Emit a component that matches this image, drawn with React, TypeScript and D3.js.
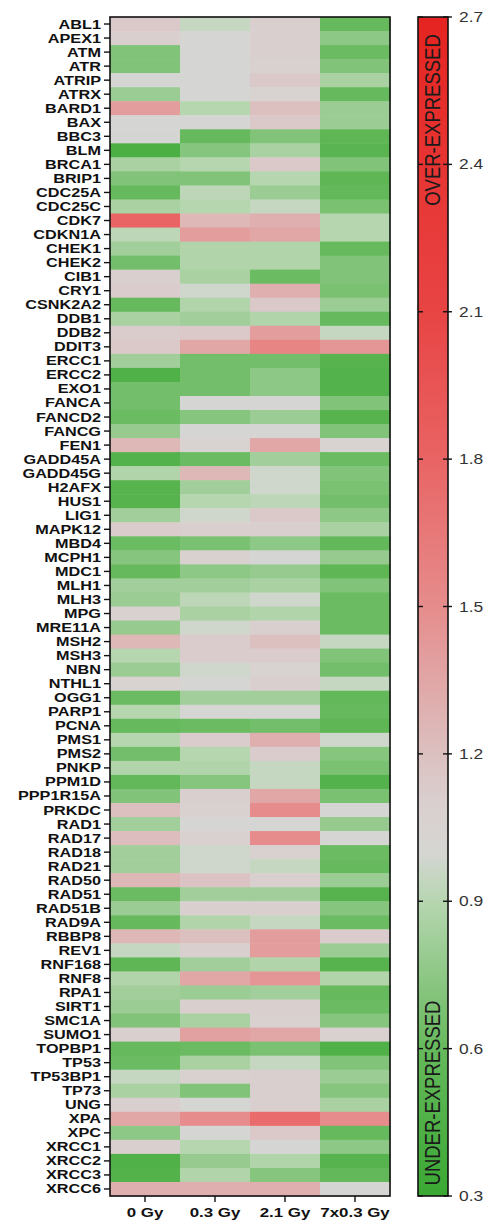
import * as d3 from "d3";

const genes = [
  "ABL1", "APEX1", "ATM", "ATR", "ATRIP", "ATRX", "BARD1", "BAX", "BBC3", "BLM",
  "BRCA1", "BRIP1", "CDC25A", "CDC25C", "CDK7", "CDKN1A", "CHEK1", "CHEK2", "CIB1", "CRY1",
  "CSNK2A2", "DDB1", "DDB2", "DDIT3", "ERCC1", "ERCC2", "EXO1", "FANCA", "FANCD2", "FANCG",
  "FEN1", "GADD45A", "GADD45G", "H2AFX", "HUS1", "LIG1", "MAPK12", "MBD4", "MCPH1", "MDC1",
  "MLH1", "MLH3", "MPG", "MRE11A", "MSH2", "MSH3", "NBN", "NTHL1", "OGG1", "PARP1",
  "PCNA", "PMS1", "PMS2", "PNKP", "PPM1D", "PPP1R15A", "PRKDC", "RAD1", "RAD17", "RAD18",
  "RAD21", "RAD50", "RAD51", "RAD51B", "RAD9A", "RBBP8", "REV1", "RNF168", "RNF8", "RPA1",
  "SIRT1", "SMC1A", "SUMO1", "TOPBP1", "TP53", "TP53BP1", "TP73", "UNG", "XPA", "XPC",
  "XRCC1", "XRCC2", "XRCC3", "XRCC6",
];

const doses = ["0 Gy", "0.3 Gy", "2.1 Gy", "7x0.3 Gy"];

// fold change per gene, one array per dose
const gy0 = [
  1.15, 1.1, 0.7, 0.7, 1.0, 0.8, 1.4, 1.0, 1.0, 0.42,
  0.85, 0.7, 0.6, 0.85, 1.8, 0.92, 0.82, 0.65, 1.1, 1.12,
  0.6, 0.85, 1.12, 1.15, 0.82, 0.45, 0.65, 0.65, 0.62, 0.78,
  1.25, 0.48, 0.88, 0.5, 0.5, 0.82, 1.12, 0.62, 0.72, 0.6,
  0.82, 0.8, 1.08, 0.78, 1.25, 0.9, 0.8, 1.05, 0.62, 0.9,
  0.6, 0.9, 0.65, 0.88, 0.58, 0.7, 1.2, 0.82, 1.22, 0.82,
  0.82, 1.25, 0.62, 0.8, 0.6, 1.25, 0.95, 0.55, 0.88, 0.82,
  0.8, 0.7, 1.1, 0.6, 0.62, 0.95, 0.85, 1.1, 1.35, 0.75,
  1.1, 0.45, 0.47, 1.3,
];
const gy03 = [
  0.95, 1.0, 1.0, 1.0, 1.0, 1.0, 0.9, 1.0, 0.6, 0.72,
  0.9, 0.7, 0.92, 0.9, 1.25, 1.4, 0.88, 0.88, 0.85, 0.98,
  0.88, 0.82, 1.15, 1.35, 0.65, 0.65, 0.65, 1.0, 0.72, 1.0,
  1.05, 0.62, 1.25, 0.82, 0.9, 0.98, 1.1, 0.68, 1.08, 0.75,
  0.82, 0.92, 0.85, 0.98, 1.12, 1.12, 0.98, 1.0, 0.82, 1.0,
  0.62, 1.12, 0.9, 0.88, 0.72, 1.1, 1.08, 1.0, 1.08, 0.98,
  0.98, 1.18, 0.82, 1.1, 0.88, 1.2, 1.1, 0.82, 1.35, 0.8,
  1.1, 0.85, 1.38, 0.62, 0.85, 1.08, 0.7, 1.0, 1.5, 1.0,
  0.9, 0.78, 0.88, 1.3,
];
const gy21 = [
  1.1, 1.1, 1.1, 1.08, 1.15, 1.05, 1.2, 1.15, 0.7, 0.85,
  1.15, 0.9, 0.8, 0.95, 1.3, 1.35, 0.88, 0.88, 0.62, 1.3,
  1.15, 0.88, 1.4, 1.55, 0.65, 0.75, 0.75, 1.0, 0.8, 1.0,
  1.35, 0.82, 0.98, 0.98, 0.92, 1.15, 1.1, 0.75, 1.0, 0.78,
  0.85, 0.98, 0.88, 1.1, 1.2, 1.12, 1.05, 1.1, 0.82, 1.0,
  0.65, 1.3, 1.12, 0.95, 0.95, 1.35, 1.5, 1.0, 1.5, 1.08,
  0.95, 1.1, 0.82, 1.1, 0.95, 1.4, 1.4, 0.88, 1.45, 0.82,
  1.1, 1.08, 1.35, 0.68, 0.95, 1.1, 1.1, 1.1, 1.75, 1.15,
  1.0, 0.88, 0.72, 1.3,
];
const gy7x03 = [
  0.6, 0.75, 0.62, 0.7, 0.85, 0.6, 0.8, 0.8, 0.55, 0.52,
  0.7, 0.55, 0.58, 0.68, 0.9, 0.9, 0.6, 0.7, 0.7, 0.68,
  0.8, 0.6, 0.95, 1.45, 0.5, 0.48, 0.48, 0.7, 0.5, 0.7,
  1.05, 0.62, 0.7, 0.68, 0.65, 0.75, 0.85, 0.58, 0.78, 0.55,
  0.7, 0.62, 0.62, 0.62, 0.95, 0.7, 0.65, 0.95, 0.58, 0.6,
  0.55, 0.98, 0.72, 0.68, 0.48, 0.68, 1.0, 0.78, 1.0, 0.62,
  0.6, 0.8, 0.5, 0.72, 0.62, 1.12, 0.8, 0.5, 0.88, 0.6,
  0.62, 0.72, 1.08, 0.45, 0.7, 0.8, 0.72, 0.85, 1.5, 0.6,
  0.75, 0.5, 0.58, 1.0,
];

const series = [gy0, gy03, gy21, gy7x03];
const legendTicks = [0.3, 0.6, 0.9, 1.2, 1.5, 1.8, 2.1, 2.4, 2.7];

const colorStops: Array<[number, string]> = [
  [0.3, "#3aa833"],
  [0.6, "#66b95c"],
  [0.9, "#b6d6b0"],
  [1.0, "#d5d6d3"],
  [1.1, "#dacfcf"],
  [1.2, "#dcc0c0"],
  [1.5, "#e68c8c"],
  [1.8, "#e96464"],
  [2.1, "#e84444"],
  [2.7, "#e52421"],
];

const W = 487;
const H = 1227;
const left = 110;
const right = 390;
const top = 17;
const bottom = 1196;
const barX = 418;
const barW = 30;
const SX = 1.3;

export default function App() {
  const color = d3
    .scaleLinear<string>()
    .domain(colorStops.map((d) => d[0]))
    .range(colorStops.map((d) => d[1]))
    .interpolate(d3.interpolateRgb)
    .clamp(true);

  const x = d3.scaleBand().domain(doses).range([left, right]);
  const y = d3.scaleBand().domain(genes).range([top, bottom]);
  const ly = d3.scaleLinear().domain([0.3, 2.7]).range([bottom, top]);

  const font = "'Liberation Sans', Arial, sans-serif";

  return (
    <svg
      width={W}
      height={H}
      viewBox={`0 0 ${W} ${H}`}
      style={{ position: "absolute", left: 0, top: 0 }}
      fontFamily={font}
    >
      <defs>
        <linearGradient id="legendGrad" x1="0" y1="0" x2="0" y2="1">
          {colorStops
            .slice()
            .reverse()
            .map(([v, c]) => (
              <stop key={v} offset={(ly(v) - top) / (bottom - top)} stopColor={c} />
            ))}
        </linearGradient>
      </defs>

      {/* cells */}
      {series.map((vals, ci) =>
        vals.map((v, ri) => (
          <rect
            key={`${ci}-${ri}`}
            x={x(doses[ci])}
            y={y(genes[ri])}
            width={x.bandwidth() + 0.5}
            height={y.bandwidth() + 0.5}
            fill={color(v)}
          />
        ))
      )}
      <rect
        x={left}
        y={top}
        width={right - left}
        height={bottom - top}
        fill="none"
        stroke="#111"
        strokeWidth={1.6}
      />

      {/* y axis */}
      {genes.map((g) => {
        const cy = (y(g) ?? 0) + y.bandwidth() / 2;
        return (
          <g key={g}>
            <line x1={left - 6} x2={left} y1={cy} y2={cy} stroke="#111" strokeWidth={1.4} />
            <text
              transform={`translate(101,${cy + 4.5}) scale(${SX},1)`}
              textAnchor="end"
              fontSize={12.5}
              fontWeight="bold"
              fill="#111"
            >
              {g}
            </text>
          </g>
        );
      })}

      {/* x axis */}
      {doses.map((d) => {
        const cx = (x(d) ?? 0) + x.bandwidth() / 2;
        return (
          <g key={d}>
            <line x1={cx} x2={cx} y1={bottom} y2={bottom + 6} stroke="#111" strokeWidth={1.4} />
            <text
              transform={`translate(${cx},${bottom + 21}) scale(${SX},1)`}
              textAnchor="middle"
              fontSize={13}
              fontWeight="bold"
              fill="#111"
            >
              {d}
            </text>
          </g>
        );
      })}

      {/* legend */}
      <rect
        x={barX}
        y={top}
        width={barW}
        height={bottom - top}
        fill="url(#legendGrad)"
        stroke="#111"
        strokeWidth={1.6}
      />
      {legendTicks.map((t) => (
        <g key={t}>
          <line x1={barX} x2={barX + 5} y1={ly(t)} y2={ly(t)} stroke="#111" strokeWidth={1.4} />
          <line
            x1={barX + barW - 5}
            x2={barX + barW + 4}
            y1={ly(t)}
            y2={ly(t)}
            stroke="#111"
            strokeWidth={1.4}
          />
          <text
            transform={`translate(459,${ly(t) + 5}) scale(1.2,1)`}
            fontSize={14.5}
            fill="#333"
          >
            {t.toFixed(1)}
          </text>
        </g>
      ))}
      <text
        transform={`translate(${barX + barW / 2 + 6.5},120) scale(1.2,1) rotate(-90)`}
        textAnchor="middle"
        fontSize={18.5}
        fill="#1a1a1a"
      >
        OVER-EXPRESSED
      </text>
      <text
        transform={`translate(${barX + barW / 2 + 6.5},1093) scale(1.2,1) rotate(-90)`}
        textAnchor="middle"
        fontSize={18.5}
        fill="#1a1a1a"
      >
        UNDER-EXPRESSED
      </text>
    </svg>
  );
}
